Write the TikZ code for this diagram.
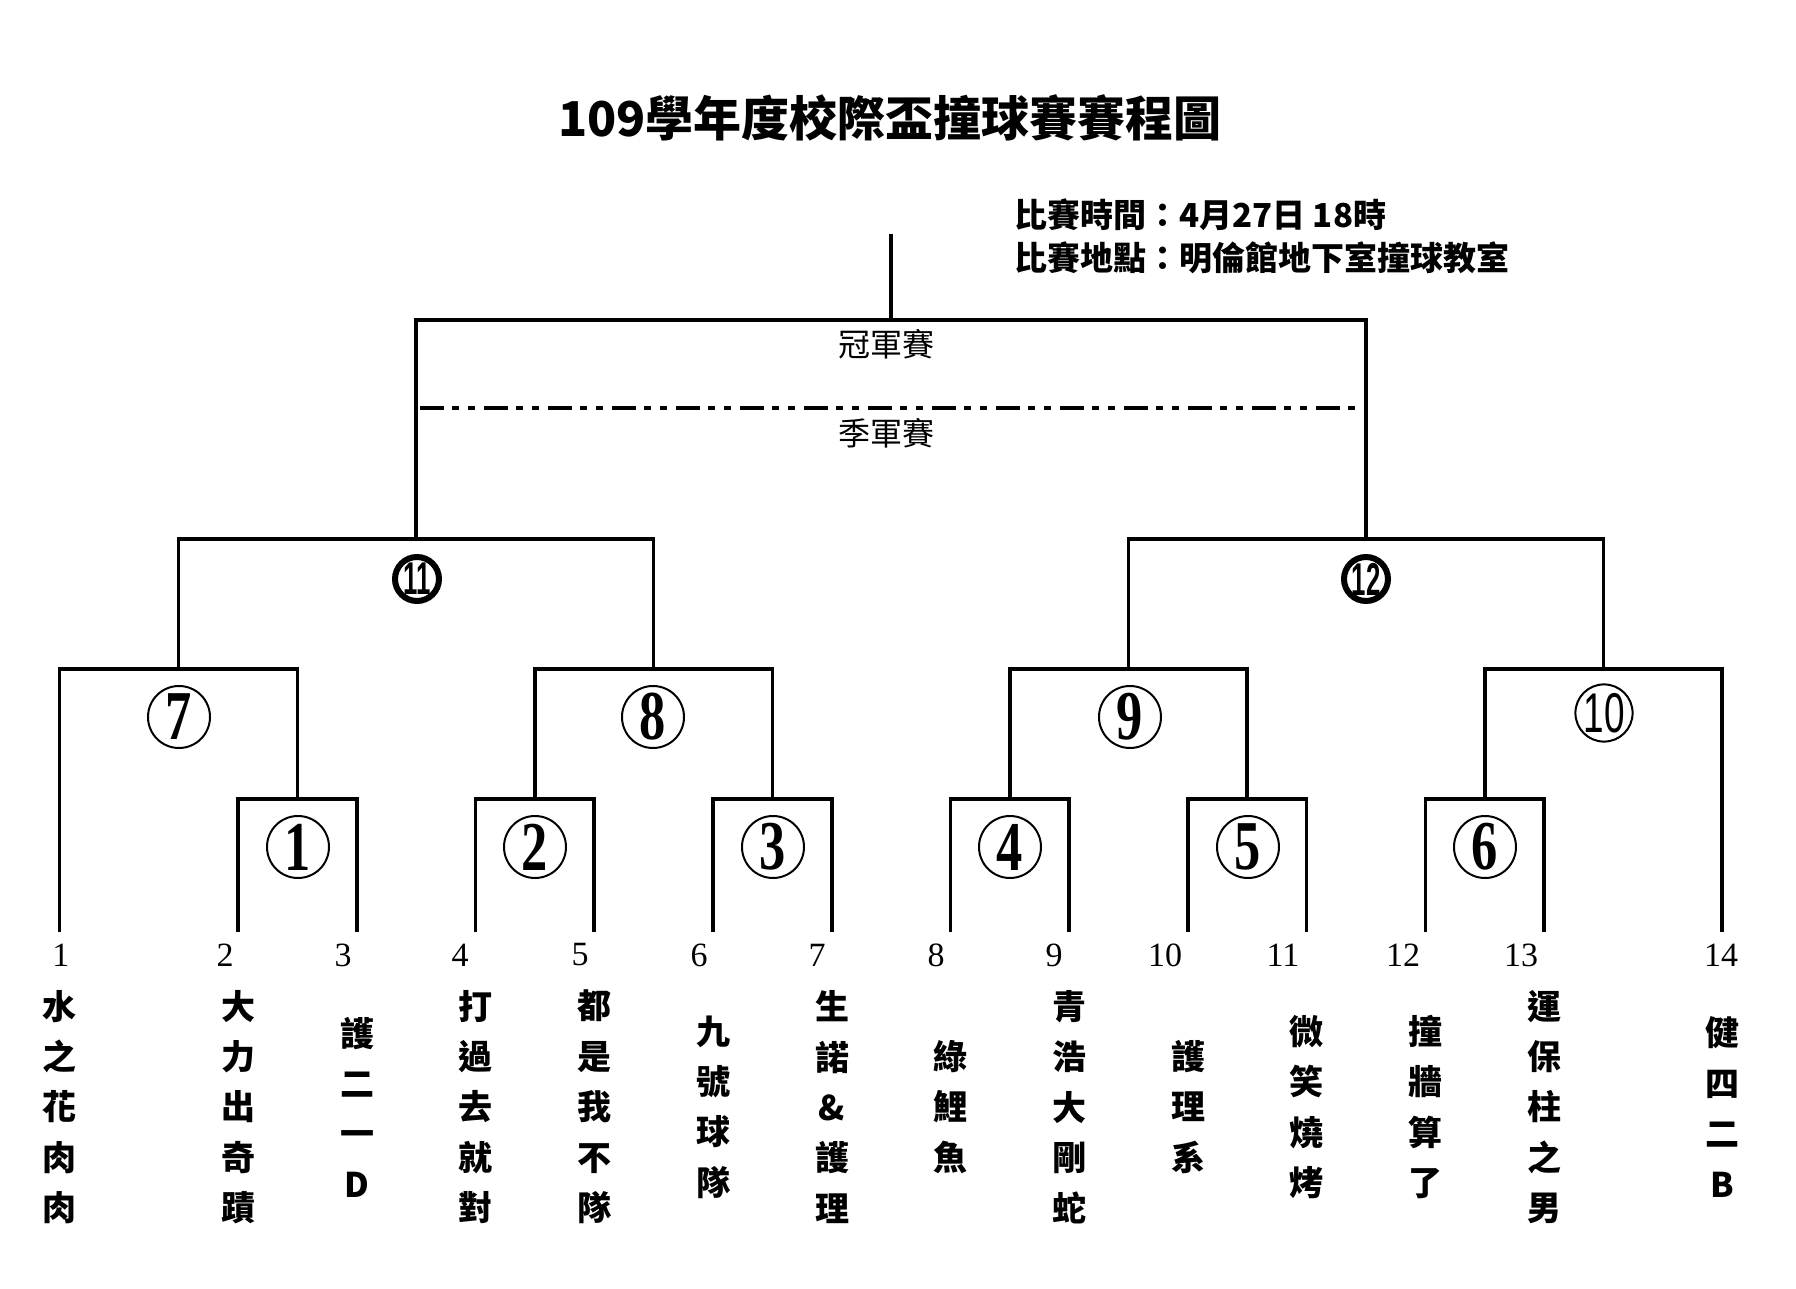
\documentclass[tikz,border=0pt]{standalone}
\usepackage{fontspec}
\usepackage{graphicx}
\setmainfont{Liberation Serif}
\newfontfamily\cjk{Noto Sans CJK TC}
\newfontfamily\narrowsans{Liberation Sans}
\newcommand\squeeze[2]{\scalebox{#1}[1]{#2}}
\tikzstyle{bracket} = [
  line width=1.6pt,
]
\tikzstyle{seed} = [
  draw,
  circle,
  line width=1pt,
  inner sep=0pt,
  minimum size=31pt,
  font=\bfseries\fontsize{35}{35}\selectfont,
]
\tikzstyle{seedwide} = [
  seed,
  minimum size=28pt,
  font=\narrowsans\fontsize{28}{28}\selectfont,
]
\tikzstyle{semiseed} = [
  draw,
  circle,
  line width=3pt,
  inner sep=0pt,
  minimum size=22pt,
  font=\narrowsans\bfseries\fontsize{23}{23}\selectfont,
]
\tikzstyle{team} = [
  align=center,
  font=\cjk\bfseries\fontsize{17}{25.2}\selectfont,
]
\tikzstyle{slot} = [font=\fontsize{17}{17}\selectfont]
\tikzstyle{stage} = [font=\cjk\fontsize{16}{16}\selectfont]
\tikzstyle{info} = [anchor=west, font=\cjk\bfseries\fontsize{16.5}{16.5}\selectfont]

\begin{document}
\begin{tikzpicture}[x=0.5pt, y=-0.5pt]
            \useasboundingbox (0,0) rectangle (1796,1289);

            % Title
            \node[font=\cjk\bfseries\fontsize{24}{24}\selectfont] (title) at (890,118) {109學年度校際盃撞球賽賽程圖};
            \node[info] (time) at (1007,215) {比賽時間：4月27日 18時};
            \node[info] (place) at (1007,258) {比賽地點：明倫館地下室撞球教室};

            % Lower ends of the team lines
            \coordinate (t1) at (59.5,932);
            \coordinate (t2) at (238,932);
            \coordinate (t3) at (357,932);
            \coordinate (t4) at (475.5,932);
            \coordinate (t5) at (594,932);
            \coordinate (t6) at (713,932);
            \coordinate (t7) at (832,932);
            \coordinate (t8) at (950.5,932);
            \coordinate (t9) at (1069,932);
            \coordinate (t10) at (1188,932);
            \coordinate (t11) at (1306.5,932);
            \coordinate (t12) at (1425.5,932);
            \coordinate (t13) at (1544,932);
            \coordinate (t14) at (1722,932);

            % Junctions of the matches
            \coordinate (j1) at (297.5,799);
            \coordinate (j2) at (535,799);
            \coordinate (j3) at (772.5,799);
            \coordinate (j4) at (1010,799);
            \coordinate (j5) at (1247,799);
            \coordinate (j6) at (1485,799);
            \coordinate (j7) at (178.5,669);
            \coordinate (j8) at (653.5,669);
            \coordinate (j9) at (1128.5,669);
            \coordinate (j10) at (1603.5,669);
            \coordinate (j11) at (416,539);
            \coordinate (j12) at (1366,539);
            \coordinate (j13) at (891,320);
            \coordinate (top) at (891,234);

            % First round
            \draw[bracket] (t2) |- (j1) -| (t3);
            \draw[bracket] (t4) |- (j2) -| (t5);
            \draw[bracket] (t6) |- (j3) -| (t7);
            \draw[bracket] (t8) |- (j4) -| (t9);
            \draw[bracket] (t10) |- (j5) -| (t11);
            \draw[bracket] (t12) |- (j6) -| (t13);

            % Second round
            \draw[bracket] (t1) |- (j7) -| (j1);
            \draw[bracket] (j2) |- (j8) -| (j3);
            \draw[bracket] (j4) |- (j9) -| (j5);
            \draw[bracket] (j6) |- (j10) -| (t14);

            % Semi finals and final
            \draw[bracket] (j7) |- (j11) -| (j8);
            \draw[bracket] (j9) |- (j12) -| (j10);
            \draw[bracket] (j11) |- (j13) -| (j12);
            \draw[bracket] (j13) -- (top);

            % Line between final and third place match
            \coordinate (dl) at (420,408);
            \coordinate (dr) at (1364,408);
            \draw[line width=2pt, dash pattern=on 12pt off 4pt on 3.5pt off 4.5pt on 3.5pt off 4.5pt] (dl) -- (dr);
            \node[stage] (final) at (886,344) {冠軍賽};
            \node[stage] (third) at (886,433) {季軍賽};

            % Match numbers
            \node[seed] (c1) at (298,847) {\squeeze{0.75}{1}};
            \node[seed] (c2) at (535,847) {\squeeze{0.75}{2}};
            \node[seed] (c3) at (773,847) {\squeeze{0.75}{3}};
            \node[seed] (c4) at (1010,847) {\squeeze{0.75}{4}};
            \node[seed] (c5) at (1248,847) {\squeeze{0.75}{5}};
            \node[seed] (c6) at (1485,847) {\squeeze{0.75}{6}};
            \node[seed] (c7) at (179,717) {\squeeze{0.75}{7}};
            \node[seed] (c8) at (653,717) {\squeeze{0.75}{8}};
            \node[seed] (c9) at (1130,717) {\squeeze{0.75}{9}};
            \node[seedwide] (c10) at (1604,713) {\squeeze{0.66}{10}};
            \node[semiseed] (c11) at (417,579) {\squeeze{0.56}{11}};
            \node[semiseed] (c12) at (1366,579) {\squeeze{0.56}{12}};

            % Slot numbers
            \node[slot] (s1) at (61,955) {1};
            \node[slot] (s2) at (225,955) {2};
            \node[slot] (s3) at (343,955) {3};
            \node[slot] (s4) at (460,955) {4};
            \node[slot] (s5) at (580,955) {5};
            \node[slot] (s6) at (699,955) {6};
            \node[slot] (s7) at (817,955) {7};
            \node[slot] (s8) at (936,955) {8};
            \node[slot] (s9) at (1054,955) {9};
            \node[slot] (s10) at (1165,955) {10};
            \node[slot] (s11) at (1283,955) {11};
            \node[slot] (s12) at (1403,955) {12};
            \node[slot] (s13) at (1521,955) {13};
            \node[slot] (s14) at (1721,955) {14};

            % Team names
            \node[team] (n1) at (59.5,1107) {水\\之\\花\\肉\\肉};
            \node[team] (n2) at (238,1107) {大\\力\\出\\奇\\蹟};
            \node[team] (n3) at (357,1107) {護\\二\\一\\D};
            \node[team] (n4) at (475.5,1107) {打\\過\\去\\就\\對};
            \node[team] (n5) at (594,1107) {都\\是\\我\\不\\隊};
            \node[team] (n6) at (713,1107) {九\\號\\球\\隊};
            \node[team] (n7) at (832,1107) {生\\諾\\\&\\護\\理};
            \node[team] (n8) at (950.5,1107) {綠\\鯉\\魚};
            \node[team] (n9) at (1069,1107) {青\\浩\\大\\剛\\蛇};
            \node[team] (n10) at (1188,1107) {護\\理\\系};
            \node[team] (n11) at (1306.5,1107) {微\\笑\\燒\\烤};
            \node[team] (n12) at (1425.5,1107) {撞\\牆\\算\\了};
            \node[team] (n13) at (1544,1107) {運\\保\\柱\\之\\男};
            \node[team] (n14) at (1722,1107) {健\\四\\二\\B};
          \end{tikzpicture}
\end{document}
